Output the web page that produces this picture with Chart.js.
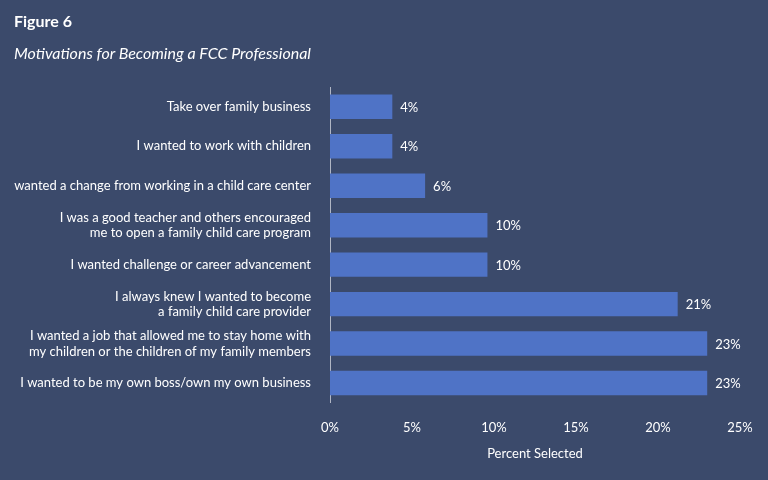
<!DOCTYPE html>
<html>
<head>
<script src="https://cdn.jsdelivr.net/npm/chart.js@4"></script>
<style>
  body { margin: 0; background: #3b4a6b; font-family: Lato, "Liberation Sans", sans-serif; }
  #wrap { position: relative; width: 768px; height: 480px; }
  #fig { position: absolute; left: 14px; top: 11px; color: #fff; font-weight: bold; font-size: 16px; }
  #sub { position: absolute; left: 14px; top: 43px; color: #fff; font-style: italic; font-size: 16px; }
</style>
</head>
<body>
<div id="wrap">
  <div id="fig">Figure 6</div>
  <div id="sub">Motivations for Becoming a FCC Professional</div>
  <canvas id="c" width="768" height="480"></canvas>
</div>
<script>
const categories = [
  "Take over family business",
  "I wanted to work with children",
  "I wanted a change from working in a child care center",
  ["I was a good teacher and others encouraged", "me to open a family child care program"],
  "I wanted challenge or career advancement",
  ["I always knew I wanted to become", "a family child care provider"],
  ["I wanted a job that allowed me to stay home with", "my children or the children of my family members"],
  "I wanted to be my own boss/own my own business"
];
const values = [3.8, 3.8, 5.8, 9.6, 9.6, 21.2, 23, 23];
const valueLabels = ["4%", "4%", "6%", "10%", "10%", "21%", "23%", "23%"];

// etiquetas de valor al final de cada barra
const barLabels = {
  id: 'barLabels',
  afterDatasetsDraw(chart) {
    const ctx = chart.ctx;
    ctx.save();
    ctx.fillStyle = '#fff';
    ctx.font = '13px Lato, "Liberation Sans", sans-serif';
    ctx.textBaseline = 'middle';
    chart.getDatasetMeta(0).data.forEach((bar, i) => {
      ctx.fillText(valueLabels[i], bar.x + 8, bar.y + 1);
    });
    ctx.restore();
  }
};

new Chart(document.getElementById('c'), {
  type: 'bar',
  data: {
    labels: categories,
    datasets: [{
      data: values,
      backgroundColor: '#4f73c6',
      barPercentage: 0.62,
      categoryPercentage: 1
    }]
  },
  options: {
    indexAxis: 'y',
    responsive: false,
    animation: false,
    layout: { padding: { top: 87, right: 28, bottom: 14, left: 10 } },
    plugins: { legend: { display: false }, tooltip: { enabled: false } },
    scales: {
      x: {
        min: 0, max: 25,
        ticks: { stepSize: 5, color: '#fff', callback: v => v + '%', font: { size: 13, family: 'Lato' }, padding: 9 },
        grid: { display: false },
        border: { display: false },
        title: { display: true, text: 'Percent Selected', color: '#fff', font: { size: 13, family: 'Lato' }, padding: { top: 2 } }
      },
      y: {
        afterFit(scale) { scale.width = 320; },
        ticks: { color: '#fff', font: { size: 13, family: 'Lato' }, padding: 11 },
        grid: { display: false },
        border: { color: '#b0b6c4', width: 1 }
      }
    }
  },
  plugins: [barLabels]
});
</script>
</body>
</html>
